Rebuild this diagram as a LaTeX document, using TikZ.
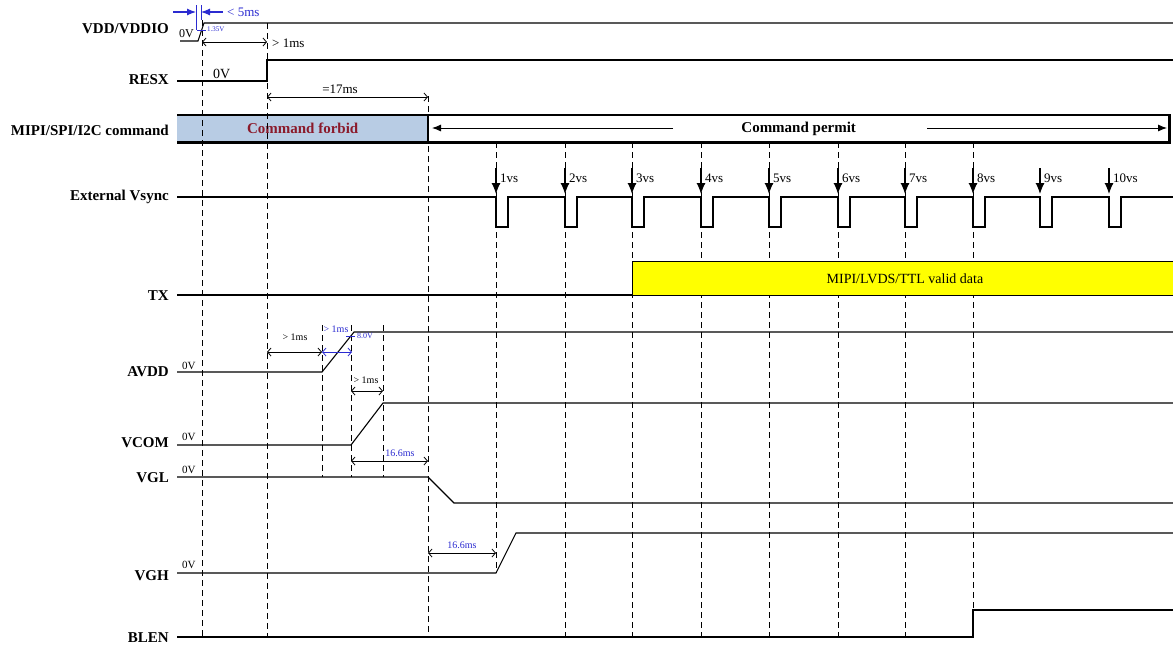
\documentclass[tikz,border=0pt]{standalone}
\usepackage{fontspec}
\setmainfont{Liberation Serif}
\usetikzlibrary{arrows.meta}
\definecolor{ForbidBlue}{HTML}{B8CCE4}
\definecolor{ForbidRed}{HTML}{8B1A2B}
\definecolor{NoteBlue}{HTML}{2B2BD0}
\definecolor{DataYellow}{HTML}{FFFF00}
\begin{document}
\begin{tikzpicture}[x=1pt,y=-1pt,>={Latex[length=9pt,width=7pt]},
  sig/.style={line width=1.1pt},
  guide/.style={line width=0.9pt,dash pattern=on 6pt off 4pt},
  dim/.style={{Straight Barb[length=3.5pt,width=8pt]}-{Straight Barb[length=3.5pt,width=8pt]},line width=0.8pt},
  lbl/.style={anchor=east,inner sep=0pt,font=\fontsize{15}{18}\selectfont\bfseries},
  note/.style={inner sep=0pt,font=\fontsize{#1}{#1}\selectfont},
  note/.default=13]
\useasboundingbox (0,0) rectangle (1173,648);
% signal names
\node[lbl] (vdd) at (169,29) {VDD/VDDIO};
\node[lbl] (resx) at (169,80) {RESX};
\node[lbl] (cmd) at (169,130) {MIPI/SPI/I2C command};
\node[lbl] (vsync) at (169,197) {External Vsync};
\node[lbl] (tx) at (169,296) {TX};
\node[lbl] (avdd) at (169,372) {AVDD};
\node[lbl] (vcom) at (169,443) {VCOM};
\node[lbl] (vgl) at (169,478) {VGL};
\node[lbl] (vgh) at (169,576) {VGH};
\node[lbl] (blen) at (169,638) {BLEN};
% command windows
\node[fill=ForbidBlue,anchor=north west,minimum width=251pt,minimum height=27pt,inner sep=0pt,text=ForbidRed,font=\fontsize{15}{18}\selectfont\bfseries] (forbid) at (177,115) {Command forbid};
\node[anchor=north west,minimum width=741pt,minimum height=27pt,inner sep=0pt,font=\fontsize{15}{18}\selectfont\bfseries] (permit) at (428,115) {Command permit};
\draw[line width=2.6pt] (forbid.north west) -- (permit.north east) -- (permit.south east) -- (forbid.south west);
\draw[line width=2pt] (permit.north west) -- (permit.south west);
\draw[->,line width=0.9pt] (673,128) -- (432,128);
\draw[->,line width=0.9pt] (927,128) -- (1167,128);
% guide lines
\foreach \t/\a/\b in {202/20/638,267/23/638,428/96/638,322/325/477,351/325/477,383/325/477,496/142/573,565/142/637,632/142/637,701/142/637,769/142/637,838/142/637,905/142/637,973/142/610}
  \draw[guide] (\t,\a) -- (\t,\b);
% TX data window
\node[draw,fill=DataYellow,anchor=north west,minimum width=545pt,minimum height=34pt,inner sep=0pt,line width=0.9pt,font=\fontsize{14}{16}\selectfont] (data) at (632,261) {MIPI/LVDS/TTL valid data};
% waveforms
\draw[sig] (180,41) -- (198,41) -- (204,23) -- (1173,23);
\draw[sig] (177,81) -- (267,81) -- (267,60) -- (1173,60);
\draw[sig] (177,197) \foreach \t in {496,565,632,701,769,838,905,973,1040,1109} { -- (\t,197) -- (\t,227) -- (\t+12,227) -- (\t+12,197) } -- (1173,197);
\draw[sig] (177,295) -- (632,295);
\draw[sig] (177,372) -- (322,372) -- (354,332) -- (1173,332);
\draw[sig] (177,445) -- (351,445) -- (383,403) -- (1173,403);
\draw[sig] (177,477) -- (428,477) -- (454,503) -- (1173,503);
\draw[sig] (177,573) -- (496,573) -- (516,533) -- (1173,533);
\draw[sig] (177,637) -- (973,637) -- (973,610) -- (1173,610);
% vsync marks
\foreach \t/\n in {496/1,565/2,632/3,701/4,769/5,838/6,905/7,973/8,1040/9,1109/10} {
  \draw[-{Latex[length=11pt,width=9pt]},line width=1.1pt] (\t,168) -- (\t,194);
  \node[note=13,anchor=west] at (\t+4,178) {\n vs};
}
% power-on ramp of VDD
\draw[NoteBlue,line width=0.7pt] (196,5) -- (196,30) (201,5) -- (201,20) (197,30) -- (206,30);
\draw[NoteBlue,->,line width=1.1pt] (173,12) -- (196,12);
\draw[NoteBlue,->,line width=1.1pt] (223,12) -- (201,12);
\node[note=13,anchor=west,text=NoteBlue] at (227,12) {< 5ms};
\node[note=7,anchor=west,text=NoteBlue] at (207,29) {1.35V};
\node[note=12,anchor=south west] at (179,38) {0V};
\node[note=14,anchor=south west] at (213,79) {0V};
% timing gaps
\draw[dim] (202,42) -- (267,42);
\node[note=13,anchor=west] at (272,43) {> 1ms};
\draw[dim] (267,97) -- (428,97);
\node[note=13] at (340,89) {=17ms};
\draw[dim] (267,352) -- (322,352);
\node[note=10] at (295,337) {> 1ms};
\draw[dim,NoteBlue] (322,352) -- (352,352);
\node[note=10,text=NoteBlue] at (336,329) {> 1ms};
\draw[NoteBlue,line width=0.8pt] (346,336) -- (355,336);
\node[note=8,anchor=west,text=NoteBlue] at (357,336) {8.0V};
\draw[dim] (351,391) -- (383,391);
\node[note=10] at (366,380) {> 1ms};
\draw[dim] (351,461) -- (428,461);
\node[note=10,text=NoteBlue] at (400,453) {16.6ms};
\draw[dim] (428,553) -- (496,553);
\node[note=10,text=NoteBlue] at (462,545) {16.6ms};
% 0V levels
\foreach \y in {370,441,474,569}
  \node[note=11,anchor=south west] at (182,\y) {0V};
\end{tikzpicture}
\end{document}
